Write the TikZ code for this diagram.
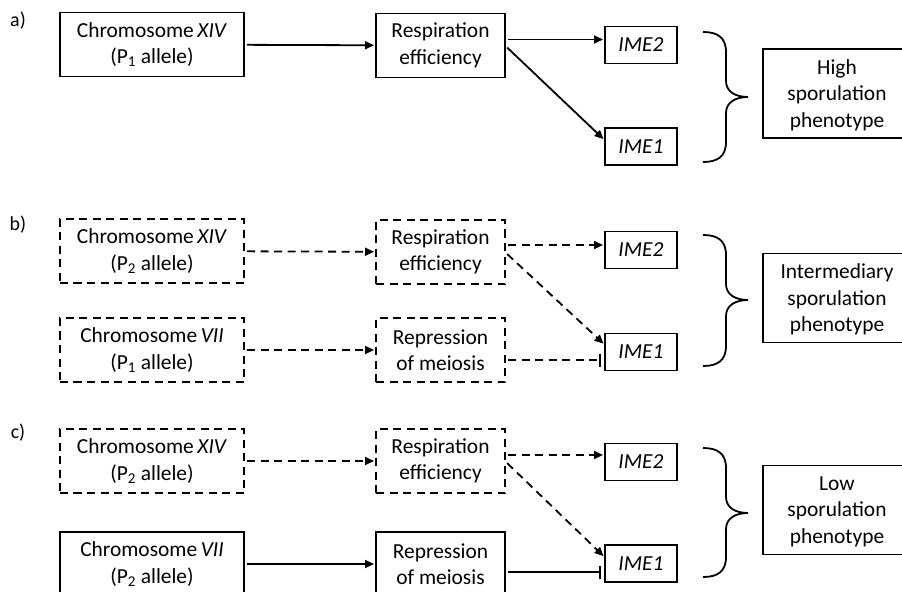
\documentclass[tikz,border=0pt]{standalone}
\usepackage{fontspec}
\setmainfont{Carlito}
\usetikzlibrary{arrows.meta}
\newcommand{\phbrace}[3]{%
  \draw[line width=1.8bp] (703,#1) .. controls (717,#1) and (726,#1+5) .. (726,#1+20) -- (726,#2-16) .. controls (726,#2-5) and (736,#2) .. (748,#2) .. controls (736,#2) and (726,#2+5) .. (726,#2+16) -- (726,#3-20) .. controls (726,#3-5) and (717,#3) .. (703,#3);}
\begin{document}
\begin{tikzpicture}[x=1bp,y=-1bp,
  font=\fontsize{21.5}{26.5}\selectfont,
  box/.style={draw, line width=1.8bp, rectangle, align=center, inner sep=0pt, outer sep=0pt},
  dbox/.style={box, dash pattern=on 8bp off 5.5bp},
  chrbox/.style={minimum width=184bp, minimum height=64bp},
  midbox/.style={minimum width=129bp, minimum height=64bp},
  imebox/.style={box, minimum width=72bp, minimum height=37bp, font=\fontsize{21.5}{26.5}\selectfont\itshape},
  phenbox/.style={box, minimum width=150bp, minimum height=89bp},
  phentext/.style={align=center, inner sep=0pt},
  lab/.style={font=\fontsize{20}{24}\selectfont, inner sep=0pt},
  arr/.style={line width=1.8bp, -{Triangle[length=9bp,width=8bp]}, shorten <=3bp, shorten >=2bp},
  darr/.style={arr, dash pattern=on 8bp off 5.5bp},
  inh/.style={line width=1.8bp, -{Bar[width=13bp,line width=1.8bp]}, shorten <=3bp, shorten >=4bp},
  dinh/.style={inh, dash pattern=on 8bp off 5.5bp}]
\useasboundingbox (0,0) rectangle (902,592);
\clip (0,0) rectangle (902,592);

% ---------- panel a ----------
\node[lab] (la) at (18,21) {a)};
\node[box, chrbox] (a1) at (152,44.5) {Chromosome\,\textit{XIV}\\(P\textsubscript{1} allele)};
\node[box, midbox] (a2) at (440.5,45.5) {Respiration\\efficiency};
\node[imebox] (a3) at (641,45) {IME2};
\node[imebox] (a4) at (641,146.5) {IME1};
\node[phenbox] (a5) at (838,93.5) {};
\node[phentext] (a5t) at (837,95) {High\\sporulation\\phenotype};
\draw[arr] (a1) -- (a2);
\draw[arr] ([yshift=6bp]a2.east) -- ([yshift=6bp]a2.east -| a3.west);
\draw[arr] (a2.east) -- ([yshift=6bp]a4.west);
\phbrace{32}{97}{162}

% ---------- panel b ----------
\node[lab] (lb) at (18,225) {b)};
\node[dbox, chrbox] (b1) at (152,251) {Chromosome\,\textit{XIV}\\(P\textsubscript{2} allele)};
\node[dbox, midbox] (b2) at (440.5,252) {Respiration\\efficiency};
\node[dbox, chrbox] (b3) at (152,350) {Chromosome\,\textit{VII}\\(P\textsubscript{1} allele)};
\node[dbox, midbox] (b4) at (440.5,350) {Repression\\of meiosis};
\node[imebox] (b5) at (641,250) {IME2};
\node[imebox] (b6) at (641,352) {IME1};
\node[phenbox] (b7) at (838,298) {};
\node[phentext] (b7t) at (837,299.5) {Intermediary\\sporulation\\phenotype};
\draw[darr] (b1) -- (b2);
\draw[darr] (b3) -- (b4);
\draw[darr] ([yshift=7bp]b2.east) -- ([yshift=7bp]b2.east -| b5.west);
\draw[darr] (b2.east) -- ([yshift=7bp]b6.west);
\draw[dinh] ([yshift=-10bp]b4.east) -- ([yshift=-10bp]b4.east -| b6.west);
\phbrace{235}{300}{366}

% ---------- panel c ----------
\node[lab] (lc) at (18,433) {c)};
\node[dbox, chrbox] (c1) at (152,461) {Chromosome\,\textit{XIV}\\(P\textsubscript{2} allele)};
\node[dbox, midbox] (c2) at (440.5,461) {Respiration\\efficiency};
\node[box, chrbox] (c3) at (152,564) {Chromosome\,\textit{VII}\\(P\textsubscript{2} allele)};
\node[box, midbox] (c4) at (440.5,564) {Repression\\of meiosis};
\node[imebox] (c5) at (641,462) {IME2};
\node[imebox] (c6) at (641,563.5) {IME1};
\node[phenbox] (c7) at (838,510) {};
\node[phentext] (c7t) at (837,511.5) {Low\\sporulation\\phenotype};
\draw[darr] (c1) -- (c2);
\draw[arr] (c3) -- (c4);
\draw[darr] ([yshift=6bp]c2.east) -- ([yshift=6bp]c2.east -| c5.west);
\draw[darr] (c2.east) -- ([yshift=6bp]c6.west);
\draw[inh] ([yshift=-8bp]c4.east) -- ([yshift=-8bp]c4.east -| c6.west);
\phbrace{448}{513}{577}
\end{tikzpicture}
\end{document}
